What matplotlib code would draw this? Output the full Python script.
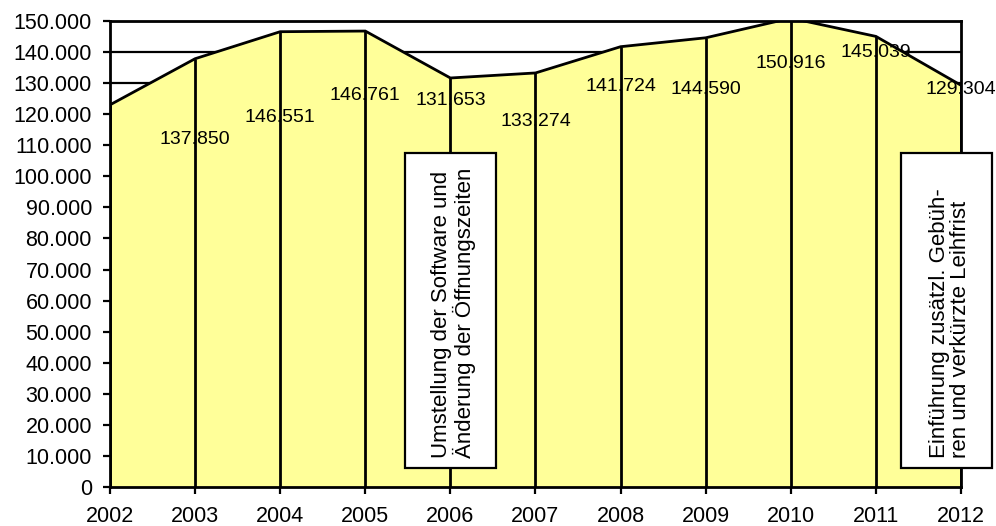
import matplotlib
matplotlib.use("Agg")
import matplotlib.pyplot as plt
from matplotlib.patches import Rectangle
from matplotlib.ticker import FuncFormatter, MultipleLocator

plt.rcParams['font.family'] = ['Liberation Sans', 'DejaVu Sans']

years = [2002, 2003, 2004, 2005, 2006, 2007, 2008, 2009, 2010, 2011, 2012]
values = [123000, 137850, 146551, 146761, 131653, 133274, 141724, 144590, 150916, 145039, 129304]
# data labels (2002 has none in the original)
label_years = years[1:]
label_values = values[1:]
label_y = [112000, 119000, 126000, 124500, 117500, 129000, 128000, 136200, 139800, 127800]

notes = ["Umstellung der Software und\nÄnderung der Öffnungszeiten",
         "Einführung zusätzl. Gebüh-\nren und verkürzte Leihfrist"]
note_x = [2006, 2011.83]

def de_fmt(v, pos=None):
    return f"{int(v):,}".replace(",", ".")

fig = plt.figure(figsize=(9.96, 5.26), dpi=100)
ax = fig.add_axes([0.1104, 0.0741, 0.8545, 0.886])

for yv in range(10000, 160000, 10000):
    ax.axhline(yv, color='black', lw=1.6, zorder=1)

ax.fill_between(years, values, 0, color='#FFFF99', zorder=2, lw=0)
ax.plot(years, values, color='black', lw=2.0, zorder=3, solid_joinstyle='miter')
ax.vlines(years, 0, values, color='black', lw=2.0, zorder=3)

for x, v, ly in zip(label_years, label_values, label_y):
    ax.text(x, ly, de_fmt(v), ha='center', va='center', fontsize=14, zorder=5)

# annotation boxes
for txt, cx in zip(notes, note_x):
    r = Rectangle((cx - 0.535, 6100), 1.07, 101400, facecolor='white',
                  edgecolor='black', lw=1.6, zorder=6, clip_on=False)
    ax.add_patch(r)
    ax.text(cx + 0.04, 9500, txt, rotation=90, ha='center', va='bottom',
            multialignment='left', fontsize=16, linespacing=1.05, zorder=7)

ax.set_xlim(2002, 2012)
ax.set_ylim(0, 150000)
ax.set_xticks(years)
ax.yaxis.set_major_locator(MultipleLocator(10000))
ax.yaxis.set_major_formatter(FuncFormatter(de_fmt))
ax.tick_params(axis='both', direction='out', length=5, width=1.6, labelsize=15.5, pad=8)
ax.tick_params(axis='x', pad=9)
for s in ax.spines.values():
    s.set_linewidth(2.0)
    s.set_zorder(4)

fig.savefig("out.png", dpi=100)
